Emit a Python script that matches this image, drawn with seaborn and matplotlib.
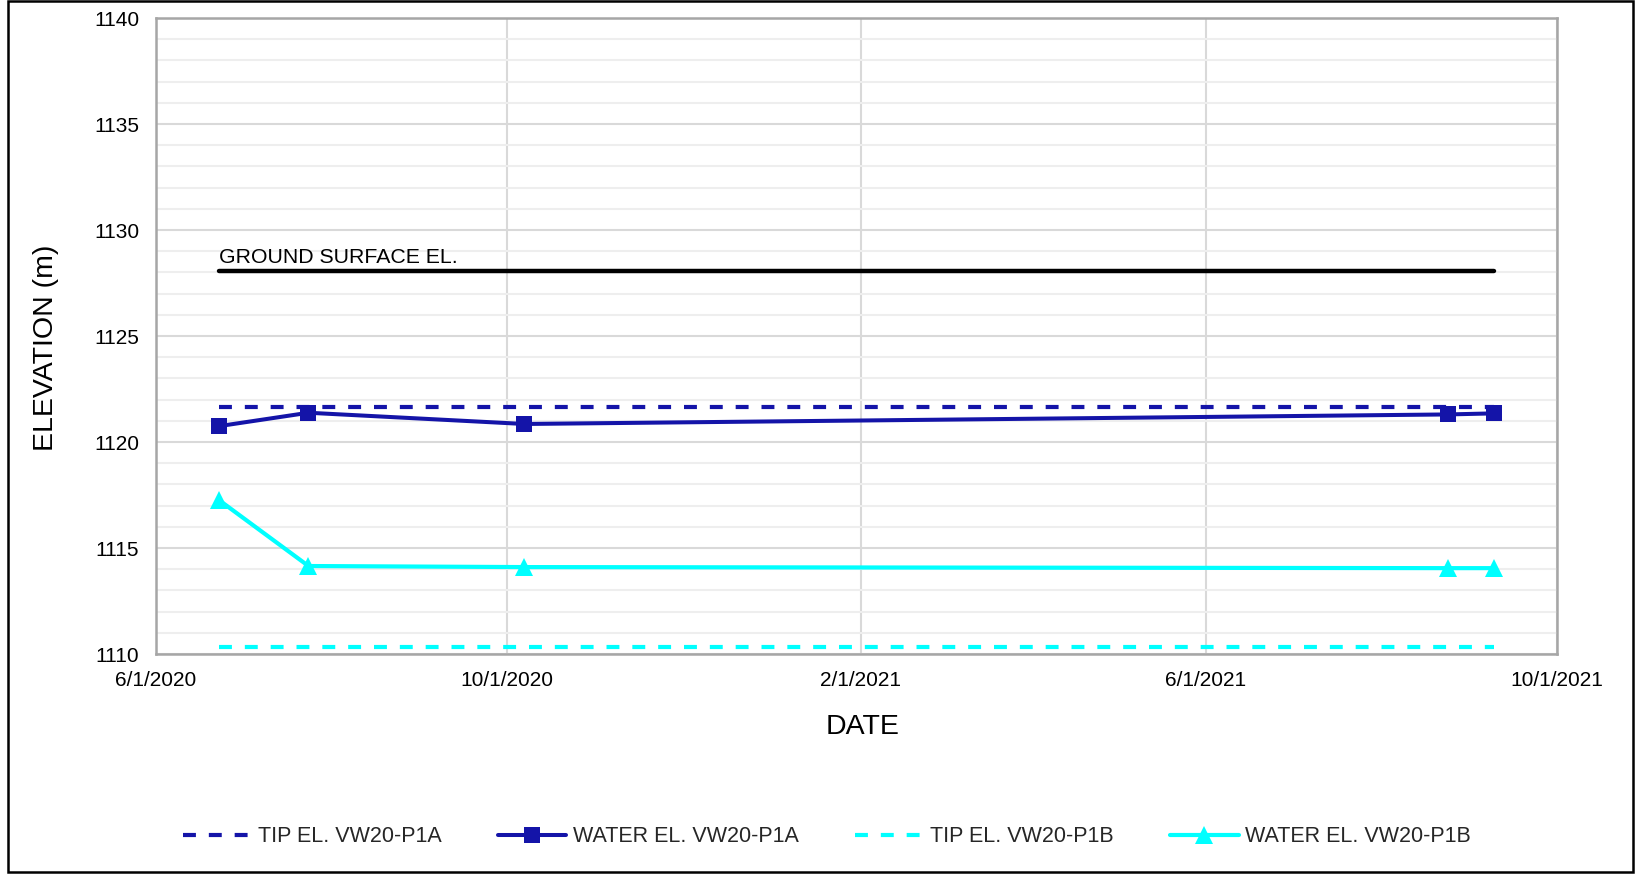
import matplotlib
matplotlib.use("Agg")
import matplotlib.pyplot as plt
import matplotlib.dates as mdates
from matplotlib.patches import Rectangle
from matplotlib.ticker import MultipleLocator, FuncFormatter
import seaborn as sns
import pandas as pd

# Readings for piezometers VW20-P1A / VW20-P1B
reading_dates = ["2020-06-23", "2020-07-24", "2020-10-07", "2021-08-24", "2021-09-09"]
water_el_p1a = [1120.75, 1121.38, 1120.85, 1121.30, 1121.35]
water_el_p1b = [1117.25, 1114.15, 1114.10, 1114.05, 1114.05]

# Reference elevations (constant over the monitoring period)
ref_dates = ["2020-06-23", "2021-09-09"]
tip_el_p1a = [1121.65, 1121.65]
tip_el_p1b = [1110.35, 1110.35]
ground_el = [1128.05, 1128.05]

x_ticks = ["2020-06-01", "2020-10-01", "2021-02-01", "2021-06-01", "2021-10-01"]

sns.set_theme(style="white")
plt.rcParams["font.family"] = ["Liberation Sans", "DejaVu Sans"]

DARK_BLUE = "#1414a8"
CYAN = "#00ffff"

readings = pd.DataFrame({
    "date": pd.to_datetime(reading_dates),
    "p1a": water_el_p1a,
    "p1b": water_el_p1b,
})
refs = pd.DataFrame({
    "date": pd.to_datetime(ref_dates),
    "tip_a": tip_el_p1a,
    "tip_b": tip_el_p1b,
    "ground": ground_el,
})

fig = plt.figure(figsize=(16.37, 8.74), dpi=100)
ax = fig.add_axes([156 / 1637, 1 - 654 / 874, 1401 / 1637, 636 / 874])

dash = (0, (3.1, 3.1))
sns.lineplot(data=refs, x="date", y="tip_a", ax=ax, color=DARK_BLUE, lw=3.0,
             linestyle=dash, label="TIP EL. VW20-P1A")
sns.lineplot(data=readings, x="date", y="p1a", ax=ax, color=DARK_BLUE, lw=2.9,
             marker="s", markersize=11, markeredgewidth=0, label="WATER EL. VW20-P1A")
sns.lineplot(data=refs, x="date", y="tip_b", ax=ax, color=CYAN, lw=3.0,
             linestyle=dash, label="TIP EL. VW20-P1B")
sns.lineplot(data=readings, x="date", y="p1b", ax=ax, color=CYAN, lw=3.0,
             marker="^", markersize=12.5, markeredgewidth=0, label="WATER EL. VW20-P1B")
sns.lineplot(data=refs, x="date", y="ground", ax=ax, color="black", lw=3.2)

ax.text(refs["date"].iloc[0], 1128.43, "GROUND SURFACE EL.", fontsize=15.3,
        va="baseline", ha="left", color="black")

# Axes ranges and grid
ax.set_ylim(1110, 1140)
ax.set_xlim(pd.Timestamp(x_ticks[0]), pd.Timestamp(x_ticks[-1]))
ax.yaxis.set_major_locator(MultipleLocator(5))
ax.yaxis.set_minor_locator(MultipleLocator(1))
ax.set_xticks(pd.to_datetime(x_ticks))


def fmt_date(v, pos=None):
    d = mdates.num2date(v)
    return f"{d.month}/{d.day}/{d.year}"


ax.xaxis.set_major_formatter(FuncFormatter(fmt_date))
ax.grid(which="major", axis="both", color="#d9d9d9", lw=1.5)
ax.grid(which="minor", axis="y", color="#eeeeee", lw=1.5)
ax.set_axisbelow(True)
ax.tick_params(axis="both", which="both", length=0, labelsize=15, colors="black")
ax.tick_params(axis="y", pad=12)
ax.tick_params(axis="x", pad=12)
for sp in ax.spines.values():
    sp.set_color("#a6a6a6")
    sp.set_linewidth(1.8)

ax.set_xlabel("DATE", fontsize=20.5, color="black")
ax.xaxis.label.set_va("center")
ax.xaxis.set_label_coords(0.504, (654 - 727) / 636)
ax.set_ylabel("ELEVATION (m)", fontsize=20.5, color="black")
ax.yaxis.label.set(va="center", ha="center")
ax.yaxis.set_label_coords((46 - 156) / 1401, (654 - 347.5) / 636)

handles, labels = ax.get_legend_handles_labels()
ax.get_legend().remove()
fig.legend(handles, labels, loc="center", bbox_to_anchor=(0.505, 1 - 837 / 874),
           ncol=4, frameon=False, fontsize=15.5, handlelength=3.2,
           handletextpad=0.3, columnspacing=2.6)

# Outer chart border
fig.patches.append(Rectangle((8 / 1637, 2 / 874), 1625 / 1637, 871 / 874,
                             transform=fig.transFigure, fill=False,
                             edgecolor="black", lw=1.8))

fig.savefig("out.png", dpi=100)
